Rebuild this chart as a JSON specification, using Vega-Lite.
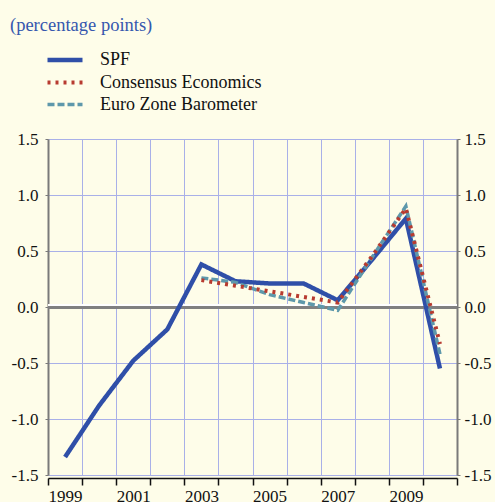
{
  "$schema": "https://vega.github.io/schema/vega-lite/v6.json",
  "autosize": {"type": "none"},
  "width": 409,
  "height": 336,
  "padding": {"left": 48, "top": 139, "right": 38, "bottom": 27},
  "background": "#fefde9",
  "title": {
    "text": "(percentage points)",
    "anchor": "start",
    "frame": "group",
    "orient": "top",
    "dx": -38,
    "dy": 2,
    "offset": 0,
    "baseline": "alphabetic",
    "font": "Liberation Serif",
    "fontSize": 18.5,
    "fontWeight": "normal",
    "color": "#3557ae"
  },
  "config": {
    "view": {"stroke": null},
    "axis": {
      "labelFont": "Liberation Serif",
      "labelFontSize": 17,
      "labelColor": "#111111"
    },
    "legend": {
      "labelFont": "Liberation Serif",
      "labelFontSize": 18,
      "labelColor": "#111111",
      "labelLimit": 400
    }
  },
  "data": {
    "values": [
      {"year": 1999, "series": "SPF", "value": -1.34},
      {"year": 2000, "series": "SPF", "value": -0.88},
      {"year": 2001, "series": "SPF", "value": -0.48},
      {"year": 2002, "series": "SPF", "value": -0.2},
      {"year": 2003, "series": "SPF", "value": 0.38},
      {"year": 2004, "series": "SPF", "value": 0.23},
      {"year": 2005, "series": "SPF", "value": 0.21},
      {"year": 2006, "series": "SPF", "value": 0.21},
      {"year": 2007, "series": "SPF", "value": 0.06},
      {"year": 2008, "series": "SPF", "value": 0.42},
      {"year": 2009, "series": "SPF", "value": 0.79},
      {"year": 2010, "series": "SPF", "value": -0.55},
      {"year": 2003, "series": "Euro Zone Barometer", "value": 0.26},
      {"year": 2004, "series": "Euro Zone Barometer", "value": 0.22},
      {"year": 2005, "series": "Euro Zone Barometer", "value": 0.11},
      {"year": 2006, "series": "Euro Zone Barometer", "value": 0.04},
      {"year": 2007, "series": "Euro Zone Barometer", "value": -0.03},
      {"year": 2008, "series": "Euro Zone Barometer", "value": 0.44},
      {"year": 2009, "series": "Euro Zone Barometer", "value": 0.9},
      {"year": 2010, "series": "Euro Zone Barometer", "value": -0.42},
      {"year": 2003, "series": "Consensus Economics", "value": 0.24},
      {"year": 2004, "series": "Consensus Economics", "value": 0.19},
      {"year": 2005, "series": "Consensus Economics", "value": 0.14},
      {"year": 2006, "series": "Consensus Economics", "value": 0.09},
      {"year": 2007, "series": "Consensus Economics", "value": 0.04},
      {"year": 2008, "series": "Consensus Economics", "value": 0.45},
      {"year": 2009, "series": "Consensus Economics", "value": 0.88},
      {"year": 2010, "series": "Consensus Economics", "value": -0.33}
    ]
  },
  "layer": [
    {
      "mark": {"type": "rule", "color": "#ffffff", "strokeWidth": 2, "yOffset": -1.5},
      "encoding": {"y": {"datum": 0, "type": "quantitative", "scale": {"domain": [-1.5, 1.5]}, "axis": null}}
    },
    {
      "mark": {"type": "rule", "color": "#808080", "strokeWidth": 1.5, "yOffset": 0.5},
      "encoding": {"y": {"datum": 0, "type": "quantitative", "scale": {"domain": [-1.5, 1.5]}, "axis": null}}
    },
    {
      "mark": {"type": "line", "strokeJoin": "miter"},
      "encoding": {
        "x": {
          "field": "year",
          "type": "quantitative",
          "scale": {"domain": [1998.5, 2010.5], "nice": false, "zero": false},
          "axis": {
            "orient": "bottom",
            "values": [1998.5, 1999.5, 2000.5, 2001.5, 2002.5, 2003.5, 2004.5, 2005.5, 2006.5, 2007.5, 2008.5, 2009.5, 2010.5],
            "grid": true,
            "gridColor": "#a9b0e8",
            "gridWidth": 1,
            "labels": false,
            "ticks": true,
            "tickColor": "#111111",
            "tickSize": 7,
            "tickWidth": 1.5,
            "domain": true,
            "domainColor": "#111111",
            "domainWidth": 1.5,
            "offset": 3,
            "title": null
          }
        },
        "y": {
          "field": "value",
          "type": "quantitative",
          "scale": {"domain": [-1.5, 1.5], "nice": false},
          "axis": {
            "orient": "left",
            "values": [-1.5, -1, -0.5, 0, 0.5, 1, 1.5],
            "labelExpr": "replace(format(datum.value, '.1f'), '−', '-')",
            "grid": true,
            "gridColor": "#a9b0e8",
            "gridWidth": 1,
            "domainColor": "#7a7a7a",
            "domainWidth": 2,
            "ticks": true,
            "tickSize": 3,
            "tickColor": "#7a7a7a",
            "labelPadding": 7,
            "title": null
          }
        },
        "color": {
          "field": "series",
          "type": "nominal",
          "scale": {
            "domain": ["SPF", "Consensus Economics", "Euro Zone Barometer"],
            "range": ["#2f4fa8", "#b73b30", "#5e98ab"]
          },
          "legend": {
            "title": null,
            "orient": "none",
            "legendX": 4.5,
            "legendY": -91.5,
            "padding": 0,
            "symbolType": "M-1.75,0H1.75",
            "symbolSize": 400,
            "symbolStrokeWidth": 4,
            "labelOffset": 22.5,
            "rowPadding": 1
          }
        },
        "strokeDash": {
          "field": "series",
          "type": "nominal",
          "scale": {
            "domain": ["SPF", "Consensus Economics", "Euro Zone Barometer"],
            "range": [[1, 0], [3, 5], [7, 3]]
          },
          "legend": {
            "title": null,
            "orient": "none",
            "legendX": 4.5,
            "legendY": -91.5,
            "padding": 0,
            "symbolType": "M-1.75,0H1.75",
            "symbolSize": 400,
            "symbolStrokeWidth": 4,
            "labelOffset": 22.5,
            "rowPadding": 1
          }
        },
        "strokeWidth": {
          "field": "series",
          "type": "nominal",
          "scale": {
            "domain": ["SPF", "Consensus Economics", "Euro Zone Barometer"],
            "range": [4.5, 3.5, 4]
          },
          "legend": null
        }
      }
    },
    {
      "mark": {"type": "rule", "opacity": 0},
      "encoding": {
        "x": {
          "datum": 2001,
          "type": "quantitative",
          "scale": {"domain": [1998.5, 2010.5], "nice": false, "zero": false},
          "axis": {
            "orient": "bottom",
            "values": [1999, 2001, 2003, 2005, 2007, 2009],
            "format": "d",
            "grid": false,
            "ticks": false,
            "domain": false,
            "labelPadding": 13,
            "title": null
          }
        },
        "y": {
          "datum": 0,
          "type": "quantitative",
          "scale": {"domain": [-1.5, 1.5], "nice": false},
          "axis": {
            "orient": "right",
            "values": [-1.5, -1, -0.5, 0, 0.5, 1, 1.5],
            "labelExpr": "replace(format(datum.value, '.1f'), '−', '-')",
            "grid": false,
            "domainColor": "#7a7a7a",
            "domainWidth": 2,
            "ticks": true,
            "tickSize": 3,
            "tickColor": "#7a7a7a",
            "labelPadding": 4,
            "title": null
          }
        }
      }
    }
  ],
  "resolve": {"axis": {"x": "independent", "y": "independent"}}
}
